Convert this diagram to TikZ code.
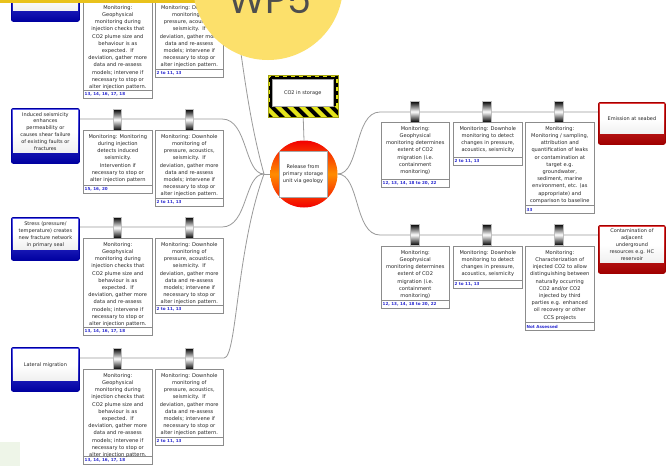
\documentclass[tikz,border=0pt]{standalone}
\usepackage{fontspec}
\setmainfont{DejaVu Sans}
\newfontfamily\wpfont{Poppins}
\usetikzlibrary{backgrounds,calc}
\definecolor{wpyellow}{HTML}{FCE06B}
\definecolor{bandyellow}{HTML}{E9C21C}
\definecolor{refblue}{HTML}{2B2BD0}
\definecolor{boxgrey}{HTML}{8C8C8C}
\definecolor{linegrey}{HTML}{9A9A9A}
\definecolor{hazyellow}{HTML}{E4E41A}
\definecolor{tblue}{HTML}{1414E6}
\definecolor{tdblue}{HTML}{0000A0}
\definecolor{cred}{HTML}{E01010}
\definecolor{cdred}{HTML}{A00000}
\definecolor{paleg}{HTML}{EEF5E8}
\definecolor{wpgrey}{HTML}{4E4E4E}
\tikzset{
  conn/.style={draw=linegrey, line width=0.8pt},
  bbox/.style={draw=boxgrey, fill=white, line width=0.6pt, inner sep=0pt, anchor=north west},
  btext/.style={anchor=north, align=center, font=\fontsize{5.1}{7.2}\selectfont, inner sep=0pt, text=black!85},
  reftext/.style={anchor=west, font=\bfseries\fontsize{4.1}{5}\selectfont, text=refblue, inner sep=0pt},
  clipshape/.style={draw=gray!50, line width=0.4pt, top color=black, bottom color=black, middle color=white, minimum height=21pt, inner sep=0pt},
  tframe/.style={draw=tdblue, line width=0.8pt, rounded corners=2pt, top color=tblue!70, bottom color=tdblue, inner sep=0pt, anchor=north west},
  cframe/.style={draw=cdred, line width=0.8pt, rounded corners=2pt, top color=cred!80, bottom color=cdred, inner sep=0pt, anchor=north west},
  ttext/.style={align=center, font=\fontsize{5}{6.9}\selectfont, inner sep=0pt, text=black!85},
}
% name, clip x, clip y top, clip width, box x, box y, width, height, text
\newcommand\mybarrier[9]{%
  \node[clipshape, minimum width=#4pt, anchor=north] (#1c) at (#2,#3) {};
  \node[bbox, minimum width=#7pt, minimum height=#8pt] (#1) at (#5,#6) {};
  \draw[boxgrey, line width=0.5pt] ([yshift=8pt]#1.south west) -- ([yshift=8pt]#1.south east);
  \node[btext] at ([yshift=-4.3pt]#1.north) {#9};
}
\newcommand\myrefs[2]{\node[reftext] at ([xshift=1.5pt,yshift=4pt]#1.south west) {#2};}
% name, style, x, y, w, h, text
\newcommand\mythreat[7]{%
  \node[#2, minimum width=#5pt, minimum height=#6pt] (#1) at (#3,#4) {};
  \fill[top color=white, bottom color=white!88!gray, middle color=white] ([xshift=2pt,yshift=-2pt]#1.north west) rectangle ([xshift=-2pt,yshift=11pt]#1.south east);
  \node[ttext] at ($([xshift=2pt,yshift=-2pt]#1.north west)!0.5!([xshift=-2pt,yshift=11pt]#1.south east)$) {#7};
}
\begin{document}
\begin{tikzpicture}[x=1pt,y=-1pt]
\useasboundingbox (0,0) rectangle (667,466);
\clip (0,0) rectangle (667,466);

% ---------- hazard and top event ----------
\node[minimum width=70pt, minimum height=42pt, anchor=north west, inner sep=0pt] (haz) at (268,75) {};
\fill[black] (haz.north west) rectangle (haz.south east);
\begin{scope}
  \clip (268,106) rectangle (338,117);
  \foreach \i in {0,...,10} {
    \fill[hazyellow] (262+\i*12,106) -- (268+\i*12,106) -- (279+\i*12,117) -- (273+\i*12,117) -- cycle;
  }
\end{scope}
\draw[hazyellow, line width=2.4pt] (269.2,76.2) -- (336.8,76.2) -- (336.8,106) (269.2,76.2) -- (269.2,106);
\draw[black, line width=2.4pt, dash pattern=on 4pt off 4pt] (269.2,106) -- (269.2,76.2) -- (336.8,76.2) -- (336.8,106);
\draw[hazyellow!70!black, line width=0.4pt] (haz.north west) rectangle (haz.south east);
\node[draw=gray!70, fill=white, line width=0.4pt, minimum width=61pt, minimum height=27pt, inner sep=0pt, anchor=north west,
      font=\fontsize{5}{6}\selectfont, text=black!85] (hazt) at (272,79) {CO2 in storage};

\node[circle, minimum size=67pt, inner sep=0pt, top color=red!95!black, bottom color=red!95!black, middle color=orange!90!yellow] (hub) at (304,174) {};
\node[draw=gray!70, fill=white, line width=0.5pt, minimum width=48pt, minimum height=46pt, inner sep=0pt, align=center,
      font=\fontsize{5}{6.9}\selectfont, text=black!85] (hubt) at (303,174) {Release from\\primary storage\\unit via geology};
\coordinate (conv) at (264,174);

% ---------- threats ----------
\mythreat{t1}{tframe}{11}{-21}{68}{42}{}
\mythreat{t2}{tframe}{11}{108}{68}{55}{Induced seismicity\\enhances\\permeability or\\causes shear failure\\of existing faults or\\fractures}
\mythreat{t3}{tframe}{11}{217}{68}{43}{Stress (pressure/\\temperature) creates\\new fracture network\\in primary seal}
\mythreat{t4}{tframe}{11}{347}{68}{44}{Lateral migration}

% ---------- consequences ----------
\mythreat{c1}{cframe}{598}{102}{67}{42}{Emission at seabed}
\mythreat{c2}{cframe}{598}{225}{67}{48}{Contamination of\\adjacent\\underground\\resources e.g. HC\\reservoir}

% ---------- connectors (background) ----------
\begin{scope}[on background layer]
\fill[white] (0,0) rectangle (667,466);
\draw[conn] ([yshift=-11pt]t1.north east) -- (222,-10) .. controls (240,-10) and (238,80) .. (conv);
\draw[conn] ([yshift=-11pt]t2.north east) -- (222,119) .. controls (248,119) and (244,174) .. (conv);
\draw[conn] ([yshift=-10pt]t3.north east) -- (222,227) .. controls (248,227) and (244,174) .. (conv);
\draw[conn] ([yshift=-11pt]t4.north east) -- (224,358) .. controls (237,358) and (236,250) .. (conv);
\draw[conn] (conv) -- (hub.west);
\draw[conn] (haz.south) -- (hub.north);
\draw[conn] (hub.east) .. controls (360,174) and (354,112) .. (380,112) -- ([yshift=-10pt]c1.north west);
\draw[conn] (hub.east) .. controls (360,174) and (354,235) .. (380,235) -- ([yshift=-10pt]c2.north west);
\end{scope}

% ---------- left barriers ----------
\def\geo{Monitoring:\\Geophysical\\monitoring during\\injection checks that\\CO2 plume size and\\behaviour is as\\expected.\ \ If\\deviation, gather more\\data and re-assess\\models; intervene if\\necessary to stop or\\alter injection pattern.}
\def\down{Monitoring: Downhole\\monitoring of\\pressure, acoustics,\\seismicity.\ \ If\\deviation, gather more\\data and re-assess\\models; intervene if\\necessary to stop or\\alter injection pattern.}

\mybarrier{b11}{117}{-20}{8}{83}{1}{69}{97}{\geo}
\myrefs{b11}{13, 14, 16, 17, 18}
\mybarrier{b12}{189}{-20}{8}{155}{1}{68}{76}{\down}
\myrefs{b12}{2 to 11, 13}

\mybarrier{b21}{117}{109}{8}{83}{130}{69}{63}{Monitoring: Monitoring\\during injection\\detects induced\\seismicity.\\Intervention if\\necessary to stop or\\alter injection pattern}
\myrefs{b21}{15, 16, 20}
\mybarrier{b22}{189}{109}{8}{155}{130}{68}{76}{\down}
\myrefs{b22}{2 to 11, 13}

\mybarrier{b31}{117}{217}{8}{83}{238}{69}{97}{\geo}
\myrefs{b31}{13, 14, 16, 17, 18}
\mybarrier{b32}{189}{217}{8}{155}{238}{68}{75}{\down}
\myrefs{b32}{2 to 11, 13}

\mybarrier{b41}{117}{348}{8}{83}{369}{69}{95}{\geo}
\myrefs{b41}{13, 14, 16, 17, 18}
\mybarrier{b42}{189}{348}{8}{155}{369}{68}{76}{\down}
\myrefs{b42}{2 to 11, 13}

% ---------- right barriers ----------
\def\geor{Monitoring:\\Geophysical\\monitoring determines\\extent of CO2\\migration (i.e.\\containment\\monitoring)}
\def\downr{Monitoring: Downhole\\monitoring to detect\\changes in pressure,\\acoustics, seismicity}

\mybarrier{r11}{415}{101}{9}{381}{122}{68}{65}{\geor}
\myrefs{r11}{12, 13, 14, 18 to 20, 22}
\mybarrier{r12}{487}{101}{9}{453}{122}{69}{43}{\downr}
\myrefs{r12}{2 to 11, 13}
\mybarrier{r13}{559}{101}{9}{525}{122}{69}{91}{Monitoring:\\Monitoring / sampling,\\attribution and\\quantification of leaks\\or contamination at\\target e.g.\\groundwater,\\sediment, marine\\environment, etc. (as\\appropriate) and\\comparison to baseline}
\myrefs{r13}{33}

\mybarrier{r21}{415}{224}{9}{381}{246}{68}{62}{\geor}
\myrefs{r21}{12, 13, 14, 18 to 20, 22}
\mybarrier{r22}{487}{224}{9}{453}{246}{69}{42}{\downr}
\myrefs{r22}{2 to 11, 13}
\mybarrier{r23}{559}{224}{9}{525}{246}{69}{84}{Monitoring:\\Characterization of\\injected CO2 to allow\\distinguishing between\\naturally occurring\\CO2 and/or CO2\\injected by third\\parties e.g. enhanced\\oil recovery or other\\CCS projects}
\myrefs{r23}{Not Assessed}

% ---------- overlays ----------
\fill[bandyellow] (0,0) rectangle (250,3);
\fill[wpyellow] (268,-15) circle[radius=75];
\node[anchor=base, inner sep=0pt, font=\wpfont\fontsize{38}{38}\selectfont, text=wpgrey] (wp) at (270,13) {WP5};
\fill[paleg] (0,442) rectangle (20,466);
\end{tikzpicture}
\end{document}
